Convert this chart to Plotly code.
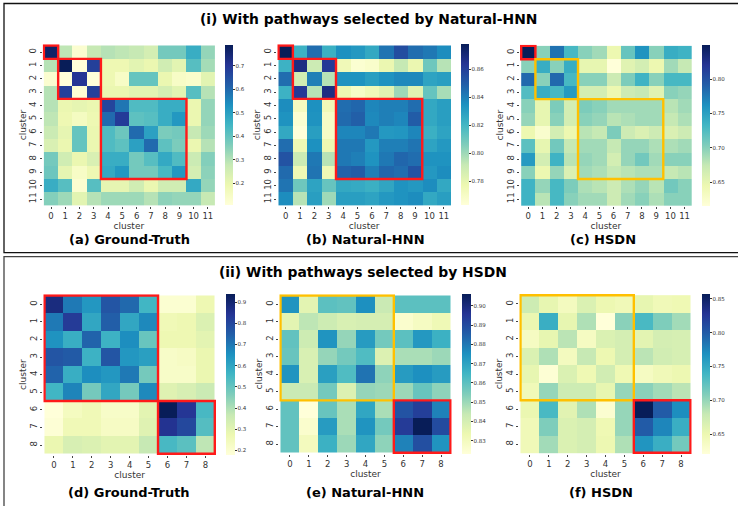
import plotly.graph_objects as go

W, H = 738, 506

# ---------------- data ----------------
clusters12 = [str(i) for i in range(12)]
clusters9 = [str(i) for i in range(9)]

gt_natural = [
    [0.77, 0.29, 0.13, 0.28, 0.30, 0.29, 0.28, 0.25, 0.38, 0.38, 0.47, 0.34],
    [0.30, 0.79, 0.11, 0.68, 0.19, 0.19, 0.22, 0.20, 0.26, 0.22, 0.42, 0.32],
    [0.13, 0.11, 0.70, 0.11, 0.19, 0.15, 0.40, 0.40, 0.20, 0.15, 0.14, 0.22],
    [0.30, 0.68, 0.12, 0.68, 0.20, 0.20, 0.22, 0.22, 0.25, 0.22, 0.42, 0.30],
    [0.30, 0.20, 0.21, 0.20, 0.67, 0.58, 0.43, 0.43, 0.47, 0.47, 0.20, 0.34],
    [0.29, 0.19, 0.16, 0.19, 0.60, 0.69, 0.41, 0.42, 0.47, 0.52, 0.20, 0.34],
    [0.27, 0.21, 0.40, 0.20, 0.43, 0.39, 0.60, 0.50, 0.37, 0.38, 0.28, 0.33],
    [0.24, 0.20, 0.40, 0.20, 0.43, 0.41, 0.50, 0.60, 0.41, 0.37, 0.20, 0.30],
    [0.38, 0.26, 0.20, 0.24, 0.47, 0.47, 0.38, 0.42, 0.48, 0.43, 0.27, 0.36],
    [0.39, 0.21, 0.15, 0.19, 0.48, 0.52, 0.38, 0.38, 0.44, 0.52, 0.25, 0.35],
    [0.47, 0.42, 0.13, 0.42, 0.21, 0.21, 0.26, 0.20, 0.26, 0.26, 0.48, 0.34],
    [0.36, 0.33, 0.22, 0.30, 0.33, 0.33, 0.33, 0.30, 0.35, 0.34, 0.34, 0.28],
]

nhnn_natural = [
    [0.878, 0.822, 0.845, 0.823, 0.835, 0.832, 0.826, 0.843, 0.855, 0.845, 0.842, 0.836],
    [0.822, 0.868, 0.790, 0.862, 0.775, 0.766, 0.768, 0.778, 0.792, 0.778, 0.810, 0.795],
    [0.845, 0.788, 0.840, 0.795, 0.834, 0.834, 0.830, 0.834, 0.837, 0.837, 0.828, 0.830],
    [0.822, 0.862, 0.795, 0.868, 0.777, 0.770, 0.775, 0.782, 0.800, 0.782, 0.812, 0.798],
    [0.836, 0.772, 0.835, 0.775, 0.845, 0.847, 0.838, 0.840, 0.840, 0.845, 0.826, 0.830],
    [0.834, 0.766, 0.834, 0.770, 0.846, 0.849, 0.837, 0.840, 0.838, 0.850, 0.826, 0.830],
    [0.826, 0.763, 0.830, 0.770, 0.838, 0.838, 0.842, 0.832, 0.833, 0.838, 0.823, 0.828],
    [0.845, 0.776, 0.835, 0.777, 0.842, 0.842, 0.832, 0.840, 0.840, 0.843, 0.828, 0.832],
    [0.853, 0.790, 0.842, 0.795, 0.842, 0.840, 0.834, 0.842, 0.847, 0.845, 0.834, 0.834],
    [0.846, 0.776, 0.843, 0.776, 0.848, 0.850, 0.840, 0.847, 0.845, 0.853, 0.832, 0.836],
    [0.843, 0.810, 0.828, 0.812, 0.826, 0.825, 0.823, 0.827, 0.834, 0.832, 0.836, 0.826],
    [0.836, 0.795, 0.830, 0.800, 0.830, 0.830, 0.828, 0.832, 0.834, 0.836, 0.826, 0.830],
]

hsdn_natural = [
    [0.850, 0.700, 0.780, 0.730, 0.700, 0.690, 0.645, 0.715, 0.760, 0.700, 0.740, 0.735],
    [0.700, 0.740, 0.700, 0.740, 0.650, 0.650, 0.616, 0.655, 0.665, 0.645, 0.690, 0.675],
    [0.785, 0.700, 0.785, 0.730, 0.700, 0.700, 0.670, 0.705, 0.735, 0.700, 0.730, 0.730],
    [0.725, 0.740, 0.730, 0.755, 0.665, 0.665, 0.645, 0.670, 0.675, 0.655, 0.700, 0.695],
    [0.700, 0.650, 0.705, 0.665, 0.705, 0.700, 0.690, 0.690, 0.690, 0.690, 0.680, 0.690],
    [0.695, 0.650, 0.700, 0.665, 0.700, 0.695, 0.680, 0.685, 0.690, 0.690, 0.675, 0.685],
    [0.645, 0.625, 0.665, 0.645, 0.680, 0.675, 0.705, 0.670, 0.660, 0.670, 0.660, 0.670],
    [0.720, 0.650, 0.710, 0.675, 0.690, 0.690, 0.675, 0.695, 0.695, 0.685, 0.685, 0.690],
    [0.755, 0.665, 0.735, 0.680, 0.695, 0.690, 0.665, 0.695, 0.710, 0.690, 0.700, 0.700],
    [0.700, 0.645, 0.695, 0.660, 0.690, 0.685, 0.675, 0.680, 0.685, 0.685, 0.675, 0.680],
    [0.735, 0.695, 0.730, 0.705, 0.685, 0.680, 0.670, 0.685, 0.695, 0.680, 0.710, 0.700],
    [0.735, 0.680, 0.730, 0.700, 0.690, 0.690, 0.670, 0.690, 0.700, 0.685, 0.700, 0.700],
]

gt_hsdn = [
    [0.88, 0.70, 0.64, 0.77, 0.73, 0.56, 0.20, 0.20, 0.27],
    [0.70, 0.83, 0.60, 0.75, 0.60, 0.67, 0.26, 0.27, 0.32],
    [0.65, 0.58, 0.74, 0.57, 0.66, 0.50, 0.27, 0.27, 0.30],
    [0.77, 0.76, 0.57, 0.77, 0.64, 0.62, 0.22, 0.23, 0.28],
    [0.74, 0.58, 0.66, 0.64, 0.70, 0.48, 0.22, 0.22, 0.28],
    [0.56, 0.68, 0.48, 0.60, 0.48, 0.67, 0.31, 0.33, 0.36],
    [0.18, 0.24, 0.26, 0.22, 0.22, 0.30, 0.94, 0.84, 0.55],
    [0.19, 0.26, 0.26, 0.23, 0.23, 0.31, 0.85, 0.80, 0.53],
    [0.28, 0.33, 0.32, 0.30, 0.30, 0.37, 0.55, 0.52, 0.38],
]

nhnn_hsdn = [
    [0.874, 0.836, 0.860, 0.859, 0.875, 0.843, 0.860, 0.860, 0.860],
    [0.836, 0.845, 0.842, 0.839, 0.840, 0.840, 0.826, 0.829, 0.832],
    [0.859, 0.842, 0.874, 0.851, 0.872, 0.856, 0.860, 0.873, 0.866],
    [0.858, 0.839, 0.851, 0.856, 0.862, 0.838, 0.848, 0.848, 0.850],
    [0.874, 0.839, 0.871, 0.862, 0.881, 0.852, 0.872, 0.875, 0.872],
    [0.843, 0.843, 0.856, 0.838, 0.851, 0.850, 0.850, 0.858, 0.852],
    [0.859, 0.823, 0.858, 0.848, 0.869, 0.848, 0.888, 0.893, 0.878],
    [0.859, 0.826, 0.872, 0.848, 0.874, 0.856, 0.894, 0.906, 0.890],
    [0.859, 0.830, 0.866, 0.850, 0.869, 0.852, 0.878, 0.889, 0.874],
]

hsdn_hsdn = [
    [0.675, 0.655, 0.640, 0.665, 0.650, 0.645, 0.655, 0.645, 0.648],
    [0.652, 0.745, 0.655, 0.690, 0.621, 0.705, 0.735, 0.710, 0.695],
    [0.638, 0.655, 0.685, 0.638, 0.665, 0.670, 0.658, 0.670, 0.668],
    [0.665, 0.690, 0.640, 0.680, 0.650, 0.670, 0.685, 0.672, 0.668],
    [0.655, 0.625, 0.665, 0.648, 0.672, 0.648, 0.638, 0.645, 0.650],
    [0.645, 0.700, 0.675, 0.675, 0.655, 0.700, 0.705, 0.695, 0.685],
    [0.652, 0.735, 0.660, 0.690, 0.628, 0.700, 0.857, 0.800, 0.770],
    [0.645, 0.710, 0.665, 0.670, 0.648, 0.700, 0.800, 0.775, 0.745],
    [0.645, 0.695, 0.665, 0.670, 0.650, 0.690, 0.765, 0.745, 0.715],
]

# colorbar tick values
ticks_a = [0.2, 0.3, 0.4, 0.5, 0.6, 0.7]
ticks_b = [0.78, 0.80, 0.82, 0.84, 0.86]
ticks_c = [0.65, 0.70, 0.75, 0.80]
ticks_d = [0.2, 0.3, 0.4, 0.5, 0.6, 0.7, 0.8, 0.9]
ticks_e = [0.83, 0.84, 0.85, 0.86, 0.87, 0.88, 0.89, 0.90]
ticks_f = [0.65, 0.70, 0.75, 0.80, 0.85]

# highlighted cluster groups: (first, last, colour)
RED, GOLD = "#ff1a1a", "#ffc000"
groups_a = [(0, 0, RED), (1, 3, RED), (4, 9, RED)]
groups_b = [(0, 0, RED), (1, 3, RED), (4, 9, RED)]
groups_c = [(0, 0, RED), (1, 3, GOLD), (4, 9, GOLD)]
groups_d = [(0, 5, RED), (6, 8, RED)]
groups_e = [(0, 5, GOLD), (6, 8, RED)]
groups_f = [(0, 5, GOLD), (6, 8, RED)]

captions = ["(a) Ground-Truth", "(b) Natural-HNN", "(c) HSDN",
            "(d) Ground-Truth", "(e) Natural-HNN", "(f) HSDN"]
section_titles = ["(i) With pathways selected by Natural-HNN",
                  "(ii) With pathways selected by HSDN"]

# ---------------- layout (pixel boxes) ----------------
panels = [
    dict(z=gt_natural, lab=clusters12, ticks=ticks_a, fmt=".1f", groups=groups_a,
         hm=(42.7, 215.0, 44.3, 205.7), cb=(225.0, 233.0, 44.7, 205.0)),
    dict(z=nhnn_natural, lab=clusters12, ticks=ticks_b, fmt=".2f", groups=groups_b,
         hm=(277.3, 451.0, 44.3, 205.7), cb=(461.0, 469.0, 44.3, 205.7)),
    dict(z=hsdn_natural, lab=clusters12, ticks=ticks_c, fmt=".2f", groups=groups_c,
         hm=(520.0, 691.7, 44.7, 205.7), cb=(701.7, 710.0, 44.7, 205.7)),
    dict(z=gt_hsdn, lab=clusters9, ticks=ticks_d, fmt=".1f", groups=groups_d,
         hm=(43.3, 216.0, 294.3, 455.0), cb=(226.0, 235.0, 293.7, 454.3)),
    dict(z=nhnn_hsdn, lab=clusters9, ticks=ticks_e, fmt=".2f", groups=groups_e,
         hm=(279.3, 451.7, 294.3, 454.0), cb=(462.0, 470.7, 294.3, 454.0)),
    dict(z=hsdn_hsdn, lab=clusters9, ticks=ticks_f, fmt=".2f", groups=groups_f,
         hm=(519.3, 691.7, 294.0, 454.0), cb=(702.3, 710.7, 294.0, 454.0)),
]
caption_pos = [(129, 239.5), (365, 239.5), (603, 239.5), (129, 492), (365, 492), (601, 492)]
title_pos = [(368, 19), (363, 272)]

ylgnbu = [[0.0, "rgb(255,255,217)"], [0.125, "rgb(237,248,177)"], [0.25, "rgb(199,233,180)"],
          [0.375, "rgb(127,205,187)"], [0.5, "rgb(65,182,196)"], [0.625, "rgb(29,145,192)"],
          [0.75, "rgb(34,94,168)"], [0.875, "rgb(37,52,148)"], [1.0, "rgb(8,29,88)"]]

def px(x):
    return x / W

def py(y):
    return 1 - y / H

fig = go.Figure()
shapes = []
annotations = []
TICK_FONT = dict(family="DejaVu Sans", size=8.5, color="#333333")
TITLE_FONT = dict(family="DejaVu Sans", size=9, color="#333333")

for i, p in enumerate(panels):
    k = "" if i == 0 else str(i + 1)
    xa, ya = "x" + k, "y" + k
    hx0, hx1, hy0, hy1 = p["hm"]
    cx0, cx1, cy0, cy1 = p["cb"]
    fig.add_trace(go.Heatmap(
        z=p["z"], x=p["lab"], y=p["lab"], xaxis=xa, yaxis=ya,
        colorscale=ylgnbu,
        colorbar=dict(
            x=px(cx0), xanchor="left", y=py(cy0), yanchor="top",
            len=(cy1 - cy0) / H, lenmode="fraction",
            thickness=cx1 - cx0, thicknessmode="pixels",
            outlinewidth=0, ticks="outside", ticklen=2, tickwidth=0.8, tickcolor="#333",
            tickvals=p["ticks"], tickformat=p["fmt"],
            tickfont=dict(family="DejaVu Sans", size=5.5, color="#333"),
            xpad=0, ypad=0,
        ),
        hoverinfo="skip",
    ))
    axx = dict(domain=[px(hx0), px(hx1)], anchor=ya, type="category",
               ticks="outside", ticklen=2, tickwidth=0.8, tickcolor="#444",
               tickfont=TICK_FONT, showgrid=False, zeroline=False, showline=False,
               title=dict(text="cluster", font=TITLE_FONT, standoff=1))
    axy = dict(domain=[py(hy1), py(hy0)], anchor=xa, type="category",
               autorange="reversed", ticks="outside", ticklen=2, tickwidth=0.8,
               tickcolor="#444", tickfont=TICK_FONT, tickangle=-90,
               showgrid=False, zeroline=False, showline=False,
               title=dict(text="cluster", font=TITLE_FONT, standoff=0))
    fig.layout["xaxis" + k] = axx
    fig.layout["yaxis" + k] = axy
    for g0, g1, col in p["groups"]:
        shapes.append(dict(type="rect", xref=xa, yref=ya,
                           x0=g0 - 0.5, x1=g1 + 0.5, y0=g0 - 0.5, y1=g1 + 0.5,
                           line=dict(color=col, width=2.4), fillcolor="rgba(0,0,0,0)",
                           layer="above"))
    cxp, cyp = caption_pos[i]
    annotations.append(dict(text=captions[i], x=px(cxp), y=py(cyp), xref="paper", yref="paper",
                            showarrow=False, xanchor="center", yanchor="middle",
                            font=dict(family="DejaVu Sans", size=13, color="#000", weight="bold")))

for t, (tx, ty) in zip(section_titles, title_pos):
    annotations.append(dict(text=t, x=px(tx), y=py(ty), xref="paper", yref="paper",
                            showarrow=False, xanchor="center", yanchor="middle",
                            font=dict(family="DejaVu Sans", size=13.9, color="#000", weight="bold")))

# section frames
shapes.append(dict(type="rect", xref="paper", yref="paper", x0=px(4), x1=px(745),
                   y0=py(252.7), y1=py(3.5), line=dict(color="#111", width=1.3), layer="above"))
shapes.append(dict(type="rect", xref="paper", yref="paper", x0=px(4), x1=px(745),
                   y0=py(515), y1=py(256.7), line=dict(color="#444", width=1.3), layer="above"))

fig.update_layout(
    width=W, height=H, margin=dict(l=0, r=0, t=0, b=0),
    paper_bgcolor="white", plot_bgcolor="white",
    shapes=shapes, annotations=annotations, showlegend=False,
)

fig.write_html("out.html", config={"displayModeBar": False},
               post_script="document.body.style.margin='0';")
